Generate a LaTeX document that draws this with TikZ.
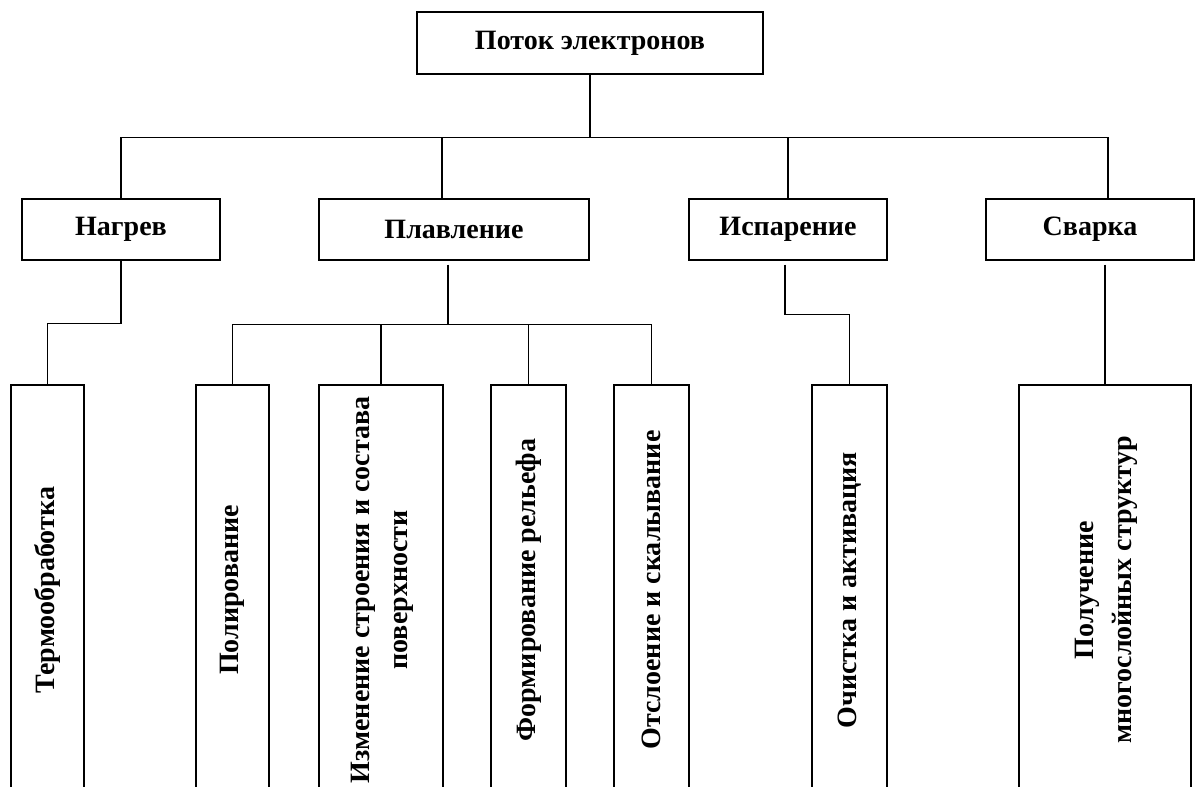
\documentclass[tikz,border=0pt]{standalone}
\usepackage{fontspec}
\setmainfont{Liberation Serif}

\begin{document}
\begin{tikzpicture}[
    x=1pt, y=-1pt,
    line width=1.3pt,
    every node/.style={draw, rectangle, align=center, inner sep=0pt,
        font=\fontsize{28}{38}\selectfont\bfseries},
    box/.style={minimum height=61pt},
    leaf/.style={minimum height=410pt}
]
\clip (0,0) rectangle (1197,787);

% Nodes
\node [minimum width=346pt, minimum height=62pt] (root) at (590,43) {Поток электронов};
\node [box, minimum width=198pt] (heat) at (121,229.5) {Нагрев};
\node [box, minimum width=270pt] (melt) at (454,229.5) {Плавление};
\node [box, minimum width=198pt] (evap) at (788,229.5) {Испарение};
\node [box, minimum width=208pt] (weld) at (1090,229.5) {Сварка};

\node [leaf, minimum width=73pt] (thermo) at (47.5,590) {\rotatebox{90}{Термообработка}};
\node [leaf, minimum width=73pt] (polish) at (232.5,590) {\rotatebox{90}{Полирование}};
\node [leaf, minimum width=124pt] (change) at (381,590)
    {\rotatebox{90}{\begin{tabular}{@{}c@{}}Изменение строения и состава\\поверхности\end{tabular}}};
\node [leaf, minimum width=75pt] (relief) at (528.5,590) {\rotatebox{90}{Формирование рельефа}};
\node [leaf, minimum width=75pt] (peel) at (651.5,590) {\rotatebox{90}{Отслоение и скалывание}};
\node [leaf, minimum width=75pt] (clean) at (849.5,590) {\rotatebox{90}{Очистка и активация}};
\node [leaf, minimum width=172pt] (multi) at (1105,590)
    {\rotatebox{90}{\begin{tabular}{@{}c@{}}Получение\\многослойных структур\end{tabular}}};

% Edges
\draw (root.south) -- ++(0,63) coordinate (bus);
\draw (bus) -| (heat.north);
\draw (bus) -| ([xshift=-12pt]melt.north);
\draw (bus) -| (evap.north);
\draw (bus) -| ([xshift=18pt]weld.north);

\draw (heat.south) -- ++(0,63) -| (thermo.north);

\draw ([xshift=-6pt,yshift=-4pt]melt.south) -- ++(0,60) coordinate (mbus);
\draw (mbus) -| (polish.north);
\draw (mbus) -| (change.north);
\draw (mbus) -| (relief.north);
\draw (mbus) -| (peel.north);

\draw ([xshift=-3pt,yshift=-4pt]evap.south) -- ++(0,50) -| (clean.north);
\draw ([yshift=-4pt]multi.north |- weld.south) -- (multi.north);

\end{tikzpicture}
\end{document}
